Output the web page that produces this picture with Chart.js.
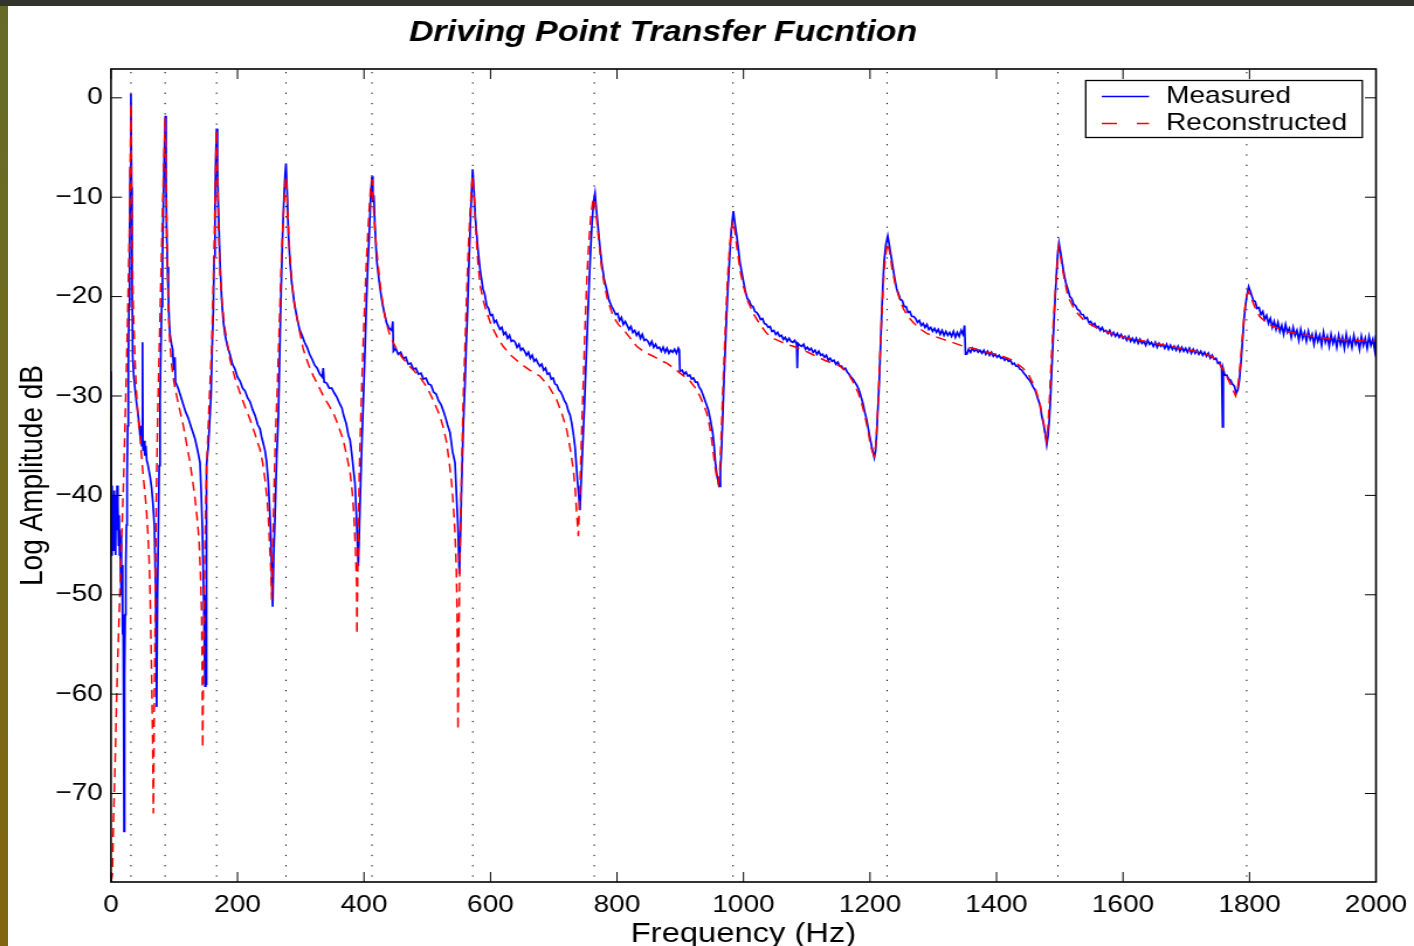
<!DOCTYPE html>
<html>
<head>
<meta charset="utf-8">
<script src="https://cdn.jsdelivr.net/npm/chart.js@4.4.1/dist/chart.umd.min.js"></script>
<style>
  html, body { margin: 0; padding: 0; background: #fff; width: 1414px; height: 946px; overflow: hidden; }
  #wrap { position: absolute; left: 0; top: 0; width: 1209px; height: 946px; transform: scaleX(1.169561); transform-origin: 0 0; }
  #leftStrip { position: absolute; left: 0; top: 0; width: 8px; height: 946px; background: linear-gradient(to bottom, #656b27, #746a1c 55%, #826510); z-index: 2; }
  #topStrip { position: absolute; left: 0; top: 0; width: 1414px; height: 6px; background: #33352a; z-index: 3; }
</style>
</head>
<body>
<div id="leftStrip"></div>
<div id="topStrip"></div>
<div id="wrap"><canvas id="c" width="1209" height="946"></canvas></div>
<script>
// Driving point FRF: [frequency Hz, amplitude dB]
const measured = [
  [0,-27.5],[0.8,-46],[1.6,-39],[2.4,-44],[3.2,-40],[4,-45.5],[4.8,-39.5],[5.6,-43],[6.4,-40.5],[7.2,-46],
  [8,-40],[8.8,-43.5],[9.6,-39],[10.4,-42],[11.2,-41],[12,-45],[12.8,-42],[13.6,-46],[14.4,-43.5],[15.2,-48],
  [16,-44],[16.8,-50],[17.6,-47],[18.4,-54],[19.2,-52],[20,-62],[20.6,-73.8],[21.4,-58],[22.4,-52],[23.4,-47],
  [24.4,-43],[25.4,-38],[26.4,-33],[27.4,-27],[28.4,-21],[29.4,-14],[30.4,-7],[31.5,0.4],[32.5,-9],[33.3,-18],
  [34.3,-26],[36,-28],[38,-29.3],[40,-30.5],[42,-31.5],[44,-32.5],[46,-34],[47.5,-33],[48.5,-35],[49.8,-24.6],
  [50.6,-35.5],[52,-34.5],[53.5,-36],[55,-35],[56.5,-36.5],[58,-36.8],[60,-37.5],[62,-38.2],[64.3,-39.3],[66.5,-41],
  [68.5,-43],[70.6,-49.5],[72.2,-61.3],[73.5,-50],[74.8,-44],[76.2,-37],[77.5,-30.5],[78.8,-25.5],[80.1,-21],[81.4,-16],
  [82.7,-11],[84.2,-6],[85.9,-1.8],[87,-8],[88,-13.6],[89.3,-17],[90.6,-19.7],[92,-22.5],[93.3,-23.8],[95.9,-24.9],
  [97.5,-25.3],[99,-27.4],[101,-26.1],[102,-28.6],[106,-29.2],[110,-30],[114,-30.8],[118,-31.6],[122,-32.2],[127,-33.2],
  [132.8,-34.3],[137,-35.5],[140.7,-36.7],[142.5,-39.5],[144.4,-43.3],[146.5,-50],[148.6,-59.2],[149.8,-50],[150.4,-59],[151,-37],
  [153.9,-35],[156,-32.5],[158.1,-30],[160,-25],[161.8,-21.3],[163.1,-16],[164.4,-11],[165.7,-6],[167,-3.1],[168.3,-7],
  [169.7,-11],[172.3,-16.5],[175,-20.3],[177.6,-22.5],[180.2,-23.8],[184,-25],[188,-25.8],[192,-26.8],[196,-27.3],[200,-28.1],
  [204,-28.5],[208,-29.2],[212,-29.5],[216,-30.2],[220,-30.6],[224,-31.4],[228,-32],[232,-32.9],[235.6,-33.3],[238,-34.1],
  [240.5,-34.7],[243.5,-35.5],[246,-36.6],[248.7,-38.7],[250.5,-41],[252.5,-43.8],[254,-47.5],[255.6,-51.2],[257.3,-46],[259.3,-42.1],
  [262,-36],[264.6,-32],[266.3,-27],[268,-22],[269.7,-17.5],[271.4,-13.6],[273.5,-10],[275.2,-7.8],[276.7,-6.6],[278.5,-9.5],
  [280.4,-13.6],[283,-16.5],[285.7,-18.6],[289.5,-20.5],[293.6,-22],[298,-23.3],[302,-23.9],[306,-24.6],[310,-25.1],[314,-25.8],
  [318,-26.3],[322,-26.9],[326,-27.2],[330,-27.8],[334,-28.1],[335.5,-27.2],[337,-28.6],[341,-28.7],[345,-29.2],[349,-29.2],
  [353,-29.7],[357,-30.1],[361,-30.7],[365,-31.2],[368,-32],[372,-32.8],[375.5,-34],[377.9,-34.4],[381,-36],[383.5,-37.5],
  [385.8,-38.8],[388,-42],[389.5,-44.5],[391,-47.1],[392.8,-43],[394.7,-38.8],[397,-34],[399,-30.4],[401.5,-25.5],[404,-20.3],
  [406.2,-16.6],[408.4,-13.6],[410.5,-10],[412.6,-7.9],[414,-10.5],[415.5,-9.8],[417,-12.5],[420,-16.3],[424,-18.5],[428,-20.3],
  [432,-21.6],[435.9,-22.7],[440,-23.2],[443.8,-23.4],[445.5,-22.5],[446.5,-25.5],[450,-25.2],[454,-25.8],[458,-25.6],[462,-26.2],
  [466,-26.1],[470,-26.8],[474,-26.7],[478,-27.3],[482,-27.2],[486,-27.8],[490,-27.7],[494,-28.3],[498,-28.2],[502,-28.8],
  [506,-28.9],[510,-29.6],[514,-29.8],[518,-30.5],[522,-30.9],[526,-31.6],[529,-32.2],[532,-32.9],[536,-33.7],[540,-35.6],
  [543.9,-36.7],[546.5,-40.4],[548.5,-43],[550.7,-47.9],[552.5,-44],[554.4,-38.8],[557,-33],[559.7,-28.7],[561.5,-25],[563.4,-22],
  [565.5,-17.5],[567.6,-13.6],[569.7,-10],[571.8,-7.2],[574,-9.5],[576,-12],[578,-13.6],[580.5,-15.5],[583.4,-17.2],[588,-19.2],
  [591,-19.8],[594,-20.9],[597,-21.2],[600,-21.9],[603,-21.8],[606,-22.6],[609,-22.4],[612,-22.9],[615,-23.3],[618,-23.1],
  [621,-23.8],[624,-23.6],[627,-24.2],[630,-23.9],[633,-24.5],[636,-24.4],[639,-24.6],[642,-25.1],[645,-24.8],[648,-25.4],
  [651,-25.2],[654,-25.5],[657,-25.9],[660,-25.6],[663,-26.2],[666,-25.9],[669,-26.5],[672,-26.3],[675,-26.7],[678,-27],
  [681,-26.8],[684,-27.4],[687,-27.2],[690,-27.8],[693,-27.7],[696,-28.3],[699,-28.2],[702,-28.8],[705,-28.9],[708,-29.4],
  [711,-29.6],[714,-30],[717,-30.5],[720,-30.8],[723,-31.5],[725.7,-31.9],[728.3,-32.7],[731,-33.8],[733.6,-35.1],[736,-37.2],
  [737.3,-38.4],[739,-39.6],[741.5,-41.5],[743,-39],[745.7,-35.1],[748.5,-31],[751,-26.7],[753.5,-22.5],[756.2,-18.3],[758.5,-15],
  [760.5,-12.6],[762.8,-10.5],[765.2,-9.6],[767.8,-11.5],[770.5,-13.3],[773,-15],[775.8,-16.6],[779.5,-18.2],[783.7,-19.3],[787.5,-20.4],
  [791.6,-21],[795,-21.4],[798,-21.8],[801,-21.7],[804,-22.4],[807,-22.1],[810,-22.8],[813,-22.5],[816,-22.9],[819,-23.3],
  [822,-23],[825,-23.6],[828,-23.4],[831,-23.9],[834,-23.6],[837,-24.2],[840,-23.8],[843,-24.4],[846,-24.3],[849,-24.5],
  [852,-24.9],[855,-24.5],[858,-25.1],[861,-24.8],[864,-25.2],[867,-25.1],[870,-25.5],[873,-25.1],[876,-25.6],[879,-25.2],
  [882,-25.7],[885,-25.4],[888,-25.6],[891,-25.3],[894,-25.7],[897,-25.2],[898.5,-25.4],[899.5,-27.5],[903,-27.4],[906,-27.8],
  [909,-27.6],[912,-28],[915,-27.9],[918,-28.3],[921,-28.2],[924,-28.6],[927,-28.6],[930,-29.1],[933,-29.4],[936,-29.9],
  [940.5,-30.7],[944.4,-31.4],[948,-32.5],[951.3,-33.7],[953.5,-35],[955.5,-36.7],[958.5,-38.2],[961.8,-39.1],[963.5,-37.5],[965.5,-35.1],
  [967.5,-31.5],[969.2,-28.4],[971.3,-25],[973.4,-21.7],[975.5,-19],[977.6,-16.6],[980.5,-13.5],[983.9,-11.4],[986.5,-12.7],[989.3,-13.9],
  [992,-15.3],[994.5,-16.6],[998.5,-18],[1002.4,-19.3],[1006,-20.2],[1009,-20.4],[1012,-20.9],[1015,-21],[1018,-21.5],[1021,-21.6],
  [1024,-21.9],[1027,-22.3],[1030,-22.2],[1033,-22.7],[1036,-22.8],[1039,-23.1],[1042,-23],[1045,-23.5],[1048,-23.4],[1051,-23.8],
  [1054,-23.6],[1057,-24],[1060,-23.9],[1063,-24.3],[1066,-24.1],[1069,-24.5],[1072,-24.2],[1075,-24.5],[1078,-24.6],[1081,-24.4],
  [1084,-24.8],[1085,-27.2],[1086,-24.7],[1089,-24.9],[1092,-25],[1095,-24.8],[1098,-25.3],[1101,-25.1],[1104,-25.4],[1107,-25.2],
  [1110,-25.6],[1113,-25.4],[1116,-25.8],[1119,-25.5],[1122,-25.9],[1125,-25.8],[1128,-26.1],[1131,-25.9],[1134,-26.4],[1137,-26.2],
  [1140,-26.5],[1143,-26.4],[1146,-26.8],[1149,-26.6],[1152,-27],[1155,-27],[1158,-27.3],[1161,-27.2],[1164,-27.6],[1167,-27.8],
  [1170,-28.1],[1173,-28.3],[1176,-28.6],[1179,-28.9],[1182,-29.3],[1185,-29.9],[1189,-30.8],[1192,-31.7],[1194.8,-32.4],[1198.8,-33.8],
  [1202.7,-35.1],[1206.8,-36.2],[1208.8,-35.5],[1210.6,-33.7],[1212.7,-31],[1214.7,-28.4],[1216.6,-25],[1218.5,-21.7],[1220.3,-19],[1222.1,-16.6],
  [1225,-14.8],[1228,-13.9],[1231,-15],[1234.3,-16.3],[1238,-17.8],[1242,-19.2],[1245,-19.7],[1248,-20.3],[1251,-20.4],[1254,-21],
  [1257,-21],[1260,-21.6],[1263,-21.5],[1266,-22],[1269,-22],[1272,-22.2],[1275,-22.6],[1278,-22.4],[1281,-22.9],[1284,-22.7],
  [1287,-23.1],[1290,-22.8],[1293,-23.3],[1296,-23.1],[1299,-23.5],[1302,-23.2],[1305,-23.6],[1308,-23.3],[1311,-23.8],[1314,-23.4],
  [1317,-23.9],[1320,-23.5],[1323,-23.9],[1326,-23.6],[1329,-24],[1332,-23.5],[1335,-24.1],[1338,-23.6],[1341,-24],[1344,-23.4],
  [1347,-23.8],[1349.5,-22.9],[1351,-25.8],[1353,-25.8],[1356,-25.3],[1359,-25.6],[1362,-25.2],[1365,-25.5],[1368,-25.3],[1371,-25.6],
  [1374,-25.4],[1377,-25.7],[1380,-25.4],[1383,-25.8],[1386,-25.5],[1389,-25.9],[1392,-25.6],[1395,-26],[1398,-25.8],[1401,-26.1],
  [1404,-25.9],[1407,-26.2],[1410,-26.1],[1413,-26.4],[1416,-26.2],[1419,-26.5],[1422,-26.4],[1425,-26.8],[1428,-26.7],[1431,-27],
  [1434,-27],[1437,-27.3],[1440,-27.4],[1443,-27.7],[1446,-27.9],[1449,-28.2],[1452,-28.4],[1455,-28.7],[1458,-29.1],[1461,-29.4],
  [1465,-30.2],[1468.8,-30.9],[1471.5,-32],[1474,-32.7],[1477,-33.8],[1479.4,-34.9],[1481.5,-34],[1483.5,-32.4],[1485.5,-30],[1487.3,-27.4],
  [1489.2,-24.8],[1491,-22.3],[1493,-19.8],[1495.2,-17.3],[1497,-15.5],[1498.8,-14.6],[1502,-15.8],[1505.6,-17.3],[1509.5,-18.6],[1513.5,-19.4],
  [1516,-20],[1519,-20.2],[1522,-20.8],[1525,-20.9],[1528,-21.3],[1531,-21.4],[1534,-21.8],[1537,-21.8],[1540,-22.2],[1543,-22.1],
  [1546,-22.6],[1549,-22.5],[1552,-22.9],[1555,-22.7],[1558,-23.1],[1561,-23],[1564,-23.4],[1567,-23.1],[1570,-23.5],[1573,-23.4],
  [1576,-23.7],[1579,-23.4],[1582,-23.9],[1585,-23.6],[1588,-24],[1591,-23.7],[1594,-24.1],[1597,-23.8],[1600,-24.2],[1603,-24],
  [1606,-24.4],[1609,-24],[1612,-24.5],[1615,-24.2],[1618,-24.6],[1621,-24.2],[1624,-24.7],[1627,-24.3],[1630,-24.7],[1633,-24.5],
  [1636,-24.9],[1639,-24.4],[1642,-24.8],[1645,-24.6],[1648,-25],[1651,-24.6],[1654,-25.1],[1657,-24.7],[1660,-25],[1663,-24.8],
  [1666,-25.2],[1669,-24.8],[1672,-25.3],[1675,-24.9],[1678,-25.3],[1681,-25],[1684,-25.4],[1687,-25],[1690,-25.5],[1693,-25.1],
  [1696,-25.5],[1699,-25.2],[1702,-25.6],[1705,-25.2],[1708,-25.7],[1711,-25.3],[1714,-25.7],[1717,-25.4],[1720,-25.8],[1723,-25.5],
  [1726,-25.9],[1729,-25.6],[1732,-26],[1735,-25.7],[1738,-26.2],[1741,-25.9],[1744,-26.3],[1747,-26.2],[1750,-26.7],[1753,-26.6],
  [1756,-27.2],[1757.5,-33.1],[1758.5,-27.3],[1761,-27.9],[1764,-27.9],[1767,-28.3],[1770,-28.4],[1773,-28.8],[1776,-29],[1779,-29.7],
  [1781.5,-29.4],[1784,-28.4],[1786,-27],[1787.6,-25.7],[1789.5,-24],[1791.3,-22.3],[1793.5,-21],[1795.5,-20],[1798.7,-19],[1802,-19.6],
  [1806,-20.4],[1809,-20.5],[1812,-21.2],[1815,-21.1],[1818,-21.8],[1821,-21.5],[1824,-22.3],[1827,-21.9],[1830,-22.7],[1833,-22.2],
  [1836,-23.1],[1839,-22.5],[1842,-23.3],[1845,-22.6],[1848,-23.5],[1851,-22.9],[1854,-23.8],[1857,-22.8],[1860,-23.6],[1863,-23.2],
  [1866,-24.1],[1869,-23.1],[1872,-23.9],[1875,-23.4],[1878,-24.4],[1881,-23.3],[1884,-24.2],[1887,-23.6],[1890,-24.5],[1893,-23.5],
  [1896,-24.3],[1899,-23.8],[1902,-24.8],[1905,-23.7],[1908,-24.5],[1911,-23.9],[1914,-24.9],[1917,-23.6],[1920,-24.6],[1923,-24],
  [1926,-25],[1929,-23.8],[1932,-24.7],[1935,-24.1],[1938,-25.1],[1941,-23.9],[1944,-24.8],[1947,-24.1],[1950,-25.2],[1953,-23.8],
  [1956,-24.9],[1959,-24.2],[1962,-25.1],[1965,-23.9],[1968,-24.8],[1971,-24.3],[1974,-25.3],[1977,-24],[1980,-24.9],[1983,-24.2],
  [1986,-25.2],[1989,-24],[1992,-24.9],[1995,-24.3],[1998,-25.4],[2000,-23.9]
];

const reconstructed = [
  [0,-78.9],[2.1,-78.2],[4,-72.5],[6.3,-67.4],[8.5,-61.5],[10.5,-56.7],[12.5,-52.8],[14.2,-49.5],[17,-44],[19.5,-39.2],
  [21.7,-34],[23.7,-29],[25.6,-24],[27.4,-18.7],[29,-13.5],[30,-8.5],[31.5,-0.6],[32.5,-8],[33.5,-15],[35.3,-21.3],
  [38,-26.5],[40.6,-30],[43,-32.3],[45.8,-34.1],[48.5,-36.2],[51.1,-38.2],[54,-40],[56.4,-41.8],[58.5,-44],[60.6,-47],
  [62,-50.5],[63.2,-54.6],[64.6,-59.5],[65.9,-64.9],[67,-72],[68.3,-62],[69.6,-54],[70.6,-46],[72.2,-38],[73.8,-32],
  [75.6,-27],[77.5,-22],[79.4,-17],[81.2,-12],[83.3,-7],[85.5,-2],[87.3,-8],[88.5,-14],[90.6,-21.3],[93,-24.5],
  [95.9,-26.9],[99.5,-28.6],[103.8,-30],[109,-31.5],[114.4,-33],[119.5,-34.8],[124.9,-36.7],[128.8,-38.4],[132.8,-40.3],[136,-42.2],
  [139.1,-44.4],[141.5,-48],[143.3,-52],[144.2,-58],[144.9,-65.4],[146.5,-55],[148.6,-45],[150,-40],[151.3,-37],[155,-31],
  [159.2,-25],[161.4,-19.5],[163.4,-14],[165,-8.5],[166.8,-3.3],[168.3,-8],[170,-13],[172.4,-17.7],[176,-21],[180.3,-23.3],
  [188,-26.3],[196,-28.2],[204,-29.7],[212,-31.1],[220,-32.4],[228,-33.9],[235.6,-35.4],[240,-36.8],[243.5,-38.4],[246.5,-40.2],
  [248.7,-42.1],[250.8,-45],[252.5,-47.1],[254,-50.5],[255.5,-46],[257.5,-40],[260,-34],[263,-29],[266,-23],[269,-17],
  [272,-12.5],[274.5,-9.5],[276.7,-7.9],[279,-11],[282,-15],[286,-18.5],[290,-20.8],[296,-22.8],[304,-25.3],[312,-26.8],
  [320,-28],[328,-29],[335.7,-30],[344,-30.9],[351.5,-31.7],[359,-32.9],[367,-34.4],[372,-35.8],[378,-37.7],[381.5,-39.7],
  [384.2,-42.1],[386.5,-45.5],[388.4,-48.8],[388.8,-54],[390.5,-46],[392.5,-38],[395,-32],[398,-26],[401.5,-20],[404.5,-15.5],
  [408,-11.5],[410.5,-9],[412.6,-8.2],[415,-11],[417.5,-13.5],[420,-15.3],[425,-18.5],[431,-21.3],[436,-22.8],[441,-23.9],
  [446,-24.6],[451.7,-25.3],[459,-26],[467.5,-26.7],[478,-27.4],[488.5,-28.1],[496,-28.8],[504,-29.7],[512,-30.8],[520,-32],
  [525.5,-33.2],[530.7,-34.7],[535,-36.8],[538.6,-38.8],[541.5,-41.2],[543.9,-43.8],[546,-47.5],[547.3,-52],[548,-57],[548.6,-63.6],
  [550,-54],[552,-44],[554.4,-37],[557,-30],[559.7,-25],[562.5,-19.5],[565,-15],[567.8,-11.5],[570,-9],[571.8,-7.9],
  [574,-10],[577,-13.5],[580,-16.5],[584,-19],[589,-20.5],[594,-21.6],[602,-23],[610,-24],[620,-25],[632,-25.9],
  [646.6,-26.7],[662,-27.4],[678,-28],[692,-29],[704.7,-30.4],[713,-31.8],[720.5,-33.4],[726,-35.3],[731,-37.4],[734,-39.5],
  [736.3,-41.8],[738.9,-44.1],[741,-40],[743.5,-35],[746.5,-29],[749.5,-23],[752.5,-18],[755.5,-14.5],[758.5,-12],[761.5,-10.5],
  [764.5,-10.1],[767.5,-12],[771,-14.2],[775.5,-17],[780,-18.8],[785,-20.3],[794,-22],[802,-22.8],[810,-23.3],[820,-24.1],
  [831,-25],[844,-25.6],[857.4,-26],[868,-26.4],[878.6,-26.7],[890,-27.2],[899.6,-27.7],[908,-28.1],[915.4,-28.5],[923,-29.1],
  [931,-30],[936.5,-30.8],[941.8,-31.7],[946,-32.9],[949.7,-34.4],[952.5,-35.8],[955,-37.1],[957.5,-38.1],[960,-38.8],[962.5,-37.5],
  [964.5,-34.5],[967,-30],[969.5,-26],[972,-22],[974.5,-18.5],[977.5,-15.5],[980.5,-13.3],[983.5,-12.4],[986.5,-13.5],[990,-15.3],
  [995,-17.5],[1000,-19],[1007,-20.5],[1015.5,-21.7],[1025,-22.7],[1036.7,-23.7],[1047,-24.2],[1057.7,-24.5],[1068,-24.8],[1078.7,-25],
  [1092,-25.3],[1105,-25.7],[1118,-26.1],[1131.5,-26.5],[1142,-26.7],[1152.6,-27],[1160,-27.4],[1168,-28],[1175,-28.8],[1181.5,-29.7],
  [1187,-30.8],[1192,-32],[1197,-33.5],[1201,-35.1],[1206.5,-36],[1209,-35],[1211,-33],[1213.5,-29.5],[1216,-25.5],[1218.5,-22],
  [1221,-18.8],[1224,-16.2],[1227.5,-14.6],[1231,-15.5],[1235,-17.2],[1240,-18.8],[1246,-20.1],[1252.6,-21.2],[1260,-22],[1268.5,-22.6],
  [1278,-23.2],[1289.6,-23.7],[1302,-24],[1316,-24.3],[1330,-24.6],[1347.5,-25],[1363,-25.2],[1374,-25.4],[1385,-25.6],[1405,-25.9],
  [1425,-26.4],[1442,-27.2],[1452,-28],[1461,-29.2],[1468,-30.6],[1474,-32.5],[1479,-34.5],[1481.5,-33],[1484,-30],[1486.5,-26.5],
  [1489.5,-23],[1492,-20.5],[1495,-17.5],[1498.5,-15],[1502,-16.3],[1506,-17.8],[1513,-20],[1524,-21.4],[1540,-22.5],[1563,-23.3],
  [1595,-24],[1627,-24.4],[1658,-24.8],[1690,-25.2],[1722,-25.6],[1740,-26],[1753,-26.8],[1760,-27.5],[1766,-28.3],[1772,-29.1],
  [1778,-30],[1781,-29.3],[1784,-27.8],[1787,-25.5],[1790,-23],[1793,-21],[1796,-19.8],[1798.5,-19.5],[1802,-20],[1808,-21],
  [1816,-22],[1830,-22.8],[1858,-23.5],[1890,-23.9],[1922,-24.2],[1960,-24.4],[2000,-24.5]
];

// natural frequencies marked by the dotted vertical lines
const resonanceFreq = [31.5, 85.5, 167, 276.7, 412.6, 572, 764, 983.4, 1227, 1497, 1795.5];

const xTicks = [0, 200, 400, 600, 800, 1000, 1200, 1400, 1600, 1800, 2000];
const xTickLabels = ['0', '200', '400', '600', '800', '1000', '1200', '1400', '1600', '1800', '2000'];
const yTicks = [-70, -60, -50, -40, -30, -20, -10, 0];
const yTickLabels = ['\u221270', '\u221260', '\u221250', '\u221240', '\u221230', '\u221220', '\u221210', '0'];

const chartTitle = 'Driving Point Transfer Fucntion';
const FONT = '"Liberation Sans", Arial, Helvetica, sans-serif';

Chart.defaults.font.family = FONT;
Chart.defaults.color = '#000';

// MATLAB-like axes: full box, inward ticks, dotted resonance markers
const framePlugin = {
    id: 'frame',
    beforeDatasetsDraw(chart) {
        const { ctx, chartArea: a, scales: { x } } = chart;
        ctx.save();
        ctx.strokeStyle = '#000';
        ctx.lineWidth = 1;
        ctx.setLineDash([1.3, 9]);
        resonanceFreq.forEach(f => {
            const px = x.getPixelForValue(f);
            ctx.beginPath();
            ctx.moveTo(px, a.top + 3);
            ctx.lineTo(px, a.bottom);
            ctx.stroke();
        });
        ctx.restore();
    },
    afterDatasetsDraw(chart) {
        const { ctx, chartArea: a, scales: { x, y } } = chart;
        ctx.save();
        ctx.strokeStyle = '#000';
        ctx.lineWidth = 1;
        ctx.beginPath();
        xTicks.forEach(v => {
            const px = x.getPixelForValue(v);
            ctx.moveTo(px, a.bottom); ctx.lineTo(px, a.bottom - 10);
            ctx.moveTo(px, a.top); ctx.lineTo(px, a.top + 10);
        });
        yTicks.forEach(v => {
            const py = y.getPixelForValue(v);
            ctx.moveTo(a.left, py); ctx.lineTo(a.left + 9.4, py);
            ctx.moveTo(a.right, py); ctx.lineTo(a.right - 9.4, py);
        });
        ctx.stroke();
        ctx.lineWidth = 1.6;
        ctx.strokeRect(a.left, a.top, a.right - a.left, a.bottom - a.top);
        ctx.restore();
    }
};

const titlePlugin = {
    id: 'plotTitle',
    afterDraw(chart) {
        const ctx = chart.ctx;
        ctx.save();
        ctx.font = 'italic bold 29px ' + FONT;
        ctx.fillStyle = '#000';
        ctx.textAlign = 'center';
        ctx.textBaseline = 'middle';
        ctx.fillText(chartTitle, 566.9, 33);
        ctx.restore();
    }
};

const boxLegendPlugin = {
    id: 'boxLegend',
    afterDraw(chart) {
        const ctx = chart.ctx;
        const left = 928.3, top = 80.5, w = 236.5, h = 57;
        ctx.save();
        ctx.fillStyle = '#fff';
        ctx.fillRect(left, top, w, h);
        ctx.strokeStyle = '#000';
        ctx.lineWidth = 1.3;
        ctx.strokeRect(left, top, w, h);
        chart.data.datasets.forEach((ds, i) => {
            const cy = 96.5 + i * 27;
            ctx.strokeStyle = ds.borderColor;
            ctx.lineWidth = 1.4;
            ctx.setLineDash(i === 1 ? [13, 17] : []);
            ctx.beginPath();
            ctx.moveTo(942, cy);
            ctx.lineTo(982.4, cy);
            ctx.stroke();
            ctx.setLineDash([]);
            ctx.fillStyle = '#000';
            ctx.font = '24px ' + FONT;
            ctx.textAlign = 'left';
            ctx.textBaseline = 'middle';
            ctx.fillText(ds.label, 997, cy);
        });
        ctx.restore();
    }
};

const toXY = pts => pts.map(p => ({ x: p[0], y: p[1] }));

new Chart(document.getElementById('c'), {
    type: 'line',
    data: {
        datasets: [
            {
                label: 'Measured',
                data: toXY(measured),
                borderColor: '#0000ff',
                borderWidth: 1.7,
                pointRadius: 0,
                tension: 0,
                order: 1
            },
            {
                label: 'Reconstructed',
                data: toXY(reconstructed),
                borderColor: '#ff0000',
                borderWidth: 1.5,
                borderDash: [9, 6],
                pointRadius: 0,
                tension: 0,
                order: 0
            }
        ]
    },
    options: {
        responsive: false,
        animation: false,
        events: [],
        layout: { padding: { top: 69, right: 32.5, left: 0, bottom: 0 } },
        plugins: {
            legend: { display: false },
            title: { display: false },
            tooltip: { enabled: false }
        },
        scales: {
            x: {
                type: 'linear',
                min: 0,
                max: 2000,
                grid: { display: false, drawTicks: false },
                border: { display: false },
                afterBuildTicks: s => { s.ticks = xTicks.map(v => ({ value: v })); },
                afterFit: s => { s.height = 64; s.paddingLeft = 0; s.paddingRight = 0; },
                ticks: {
                    autoSkip: false,
                    maxRotation: 0,
                    padding: 9,
                    font: { size: 24 },
                    callback: v => xTickLabels[xTicks.indexOf(v)]
                },
                title: {
                    display: true,
                    text: 'Frequency (Hz)',
                    font: { size: 28 },
                    padding: { top: 0, bottom: -5 }
                }
            },
            y: {
                type: 'linear',
                min: -78.9,
                max: 2.9,
                grid: { display: false, drawTicks: false },
                border: { display: false },
                afterBuildTicks: s => { s.ticks = yTicks.map(v => ({ value: v })); },
                afterFit: s => { s.width = 94.9; },
                ticks: {
                    autoSkip: false,
                    padding: 7,
                    font: { size: 24 },
                    callback: v => yTickLabels[yTicks.indexOf(v)]
                },
                title: {
                    display: true,
                    text: 'Log Amplitude dB',
                    font: { size: 28 },
                    padding: { top: 11.5, bottom: 0 }
                }
            }
        }
    },
    plugins: [framePlugin, titlePlugin, boxLegendPlugin]
});
</script>
</body>
</html>
